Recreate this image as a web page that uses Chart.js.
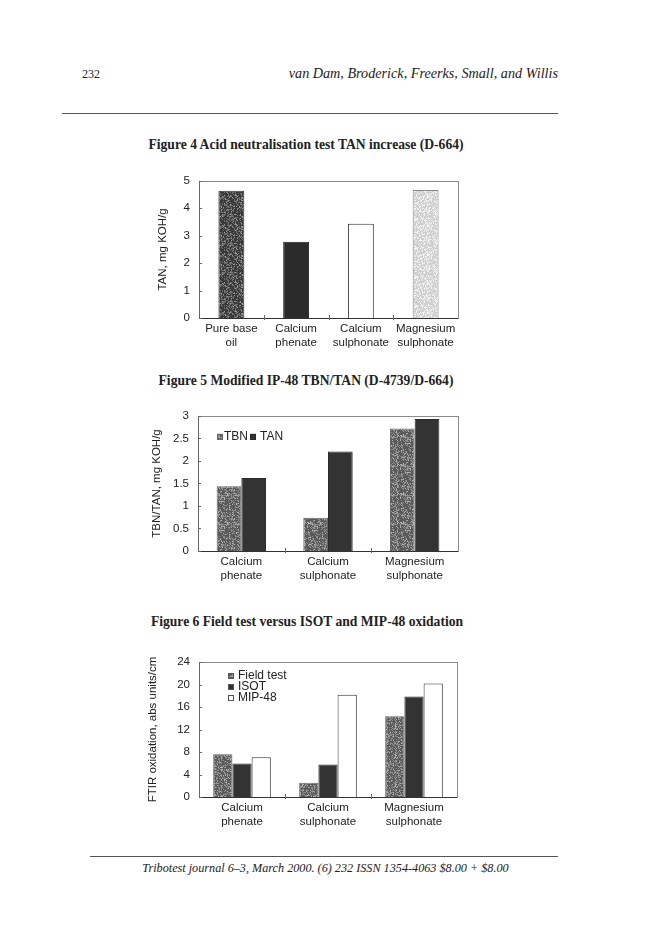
<!DOCTYPE html>
<html><head><meta charset="utf-8">
<script src="https://cdn.jsdelivr.net/npm/chart.js@4"></script>
<style>
html,body{margin:0;padding:0;background:#fff;}
body{width:648px;height:947px;position:relative;overflow:hidden;font-family:"Liberation Serif",serif;color:#222;}
.abs{position:absolute;white-space:nowrap;line-height:1;}
.rule{position:absolute;height:1px;background:#555;}
.ftitle{position:absolute;left:0;width:612px;text-align:center;font-weight:bold;font-size:13.6px;line-height:1;white-space:nowrap;}
.cv{position:absolute;}
</style></head><body>
<div class="abs" style="left:82px;top:68px;font-size:12px;">232</div>
<div class="abs" style="right:90px;top:66px;font-size:14.2px;font-style:italic;">van Dam, Broderick, Freerks, Small, and Willis</div>
<div class="rule" style="left:62px;width:496px;top:113px;"></div>
<div class="ftitle" style="top:138px;">Figure 4 Acid neutralisation test TAN increase (D-664)</div>
<div class="cv" style="left:140px;top:165px;width:330px;height:200px;"><canvas id="c1"></canvas></div>
<div class="ftitle" style="top:374px;">Figure 5 Modified IP-48 TBN/TAN (D-4739/D-664)</div>
<div class="cv" style="left:140px;top:400px;width:330px;height:195px;"><canvas id="c2"></canvas></div>
<div class="ftitle" style="top:615px;left:1px;">Figure 6 Field test versus ISOT and MIP-48 oxidation</div>
<div class="cv" style="left:140px;top:645px;width:330px;height:200px;"><canvas id="c3"></canvas></div>
<div class="rule" style="left:90px;width:468px;top:856px;"></div>
<div class="abs" style="left:0;width:651px;text-align:center;top:862px;font-size:12.2px;font-style:italic;">Tribotest journal 6–3, March 2000. (6) 232 ISSN 1354-4063 $8.00 + $8.00</div>
<script>
// ---- data ----
const fig4Categories = [['Pure base','oil'],['Calcium','phenate'],['Calcium','sulphonate'],['Magnesium','sulphonate']];
const fig4TAN = [4.64, 2.78, 3.44, 4.67];
const fig4YMax = 5, fig4YStep = 1;

const fig5Categories = [['Calcium','phenate'],['Calcium','sulphonate'],['Magnesium','sulphonate']];
const fig5TBN = [1.44, 0.74, 2.72];
const fig5TAN = [1.62, 2.21, 2.93];
const fig5YMax = 3, fig5YStep = 0.5;

const fig6Categories = [['Calcium','phenate'],['Calcium','sulphonate'],['Magnesium','sulphonate']];
const fig6Field = [7.6, 2.55, 14.35];
const fig6ISOT = [5.95, 5.8, 17.85];
const fig6MIP = [7.05, 18.2, 20.2];
const fig6YMax = 24, fig6YStep = 4;

// ---- styles ----
const FONT = {family:'"Liberation Sans", Arial, sans-serif', size:11.5};
const TXT = '#222';

function stipple(ctx, base, dark, light, seed) {
  const W = 31, H = 29;
  const c = document.createElement('canvas'); c.width = W; c.height = H;
  const g = c.getContext('2d');
  g.fillStyle = base; g.fillRect(0,0,W,H);
  for (let y=0;y<H;y++) for (let x=0;x<W;x++){
    let h = (Math.imul(x+1, 73856093) ^ Math.imul(y+1, 19349663) ^ Math.imul(seed, 83492791)) >>> 0;
    h = (h ^ (h >>> 13)) >>> 0; h = Math.imul(h, 1274126177) >>> 0; h = (h ^ (h >>> 16)) % 100;
    if (h < 22) { g.fillStyle = dark; g.fillRect(x,y,1,1); }
    else if (h < 40) { g.fillStyle = light; g.fillRect(x,y,1,1); }
  }
  return ctx.createPattern(c,'repeat');
}

const framePlugin = {
  id:'frame',
  beforeDatasetsDraw(chart){
    const {ctx, chartArea:a} = chart;
    ctx.save();
    ctx.strokeStyle = '#8a8a8a'; ctx.lineWidth = 1;
    ctx.strokeRect(Math.round(a.left)+0.5, Math.round(a.top)+0.5, Math.round(a.right-a.left), Math.round(a.bottom-a.top));
    ctx.restore();
  },
  afterDatasetsDraw(chart){
    const {ctx, chartArea:a, scales} = chart;
    ctx.save();
    ctx.strokeStyle = '#333'; ctx.lineWidth = 1;
    const by = Math.round(a.bottom)+0.5;
    ctx.beginPath(); ctx.moveTo(a.left, by); ctx.lineTo(a.right, by); ctx.stroke();
    ctx.strokeStyle = '#666';
    ctx.beginPath(); ctx.moveTo(Math.round(a.left)+0.5, a.top); ctx.lineTo(Math.round(a.left)+0.5, a.bottom); ctx.stroke();
    scales.y.ticks.forEach((t,i)=>{
      const y = Math.round(scales.y.getPixelForTick(i))+0.5;
      ctx.beginPath(); ctx.moveTo(a.left, y); ctx.lineTo(a.left+3, y); ctx.stroke();
    });
    const n = scales.x.ticks.length;
    for (let i=1;i<n;i++){
      const x = Math.round((scales.x.getPixelForTick(i-1)+scales.x.getPixelForTick(i))/2)+0.5;
      ctx.beginPath(); ctx.moveTo(x, a.bottom-3); ctx.lineTo(x, a.bottom+2); ctx.stroke();
    }
    ctx.restore();
  }
};

const legendPlugin = {
  id:'inlegend',
  afterDatasetsDraw(chart, args, o){
    if (!o || !o.mode) return;
    const {ctx, chartArea:a} = chart;
    ctx.save();
    ctx.font = (o.size||11.5) + 'px "Liberation Sans", Arial, sans-serif';
    ctx.textBaseline = 'middle';
    const ds = chart.data.datasets;
    if (o.mode === 'row') {
      let x = a.left + o.dx; const y = a.top + o.dy;
      ds.forEach((d,i)=>{
        if (i>0) x += 2;
        ctx.fillStyle = d.backgroundColor; ctx.fillRect(x, y-3, 6, 6);
        ctx.strokeStyle = d.borderColor; ctx.lineWidth = 1; ctx.strokeRect(x+0.5, y-2.5, 5, 5);
        x += 7 + (i>0?3:0);
        ctx.fillStyle = TXT; ctx.fillText(d.label, x, y);
        x += ctx.measureText(d.label).width;
      });
    } else {
      ds.forEach((d,i)=>{
        const x = a.left + o.dx, y = a.top + o.dy + i*o.step;
        ctx.fillStyle = d.backgroundColor; ctx.fillRect(x, y-3, 6, 6);
        ctx.strokeStyle = '#555'; ctx.lineWidth = 1; ctx.strokeRect(x+0.5, y-2.5, 5, 5);
        ctx.fillStyle = TXT; ctx.fillText(d.label, x+10, y);
      });
    }
    ctx.restore();
  }
};

function options(p){
  return {
    responsive:true, maintainAspectRatio:false, animation:false, devicePixelRatio:1,
    layout:{padding:{top:p.padTop, right:p.padRight, left:0, bottom:0}},
    plugins:{legend:{display:false}, tooltip:{enabled:false}, inlegend:p.legend||{}},
    scales:{
      x:{ grid:{display:false, drawTicks:false}, border:{display:false},
          ticks:{font:FONT, color:TXT, padding:4, maxRotation:0, autoSkip:false},
          afterFit(s){ s.height = p.xH; } },
      y:{ min:0, max:p.max, grid:{display:false, drawTicks:false}, border:{display:false},
          ticks:{stepSize:p.step, font:FONT, color:TXT, padding:9, callback:(v)=>String(+v.toFixed(2))},
          title:{display:true, text:p.title, font:FONT, color:TXT, padding:{top:p.titlePad, bottom:0}},
          afterFit(s){ s.width = p.yW; } }
    }
  };
}

Chart.register(framePlugin, legendPlugin);

// Figure 4
const ctx1 = document.getElementById('c1').getContext('2d');
new Chart(ctx1, {
  type:'bar',
  data:{ labels:fig4Categories, datasets:[{
    label:'TAN', data:fig4TAN,
    backgroundColor:[stipple(ctx1,'#6e6e6e','#3a3a3a','#9a9a9a',3), '#2b2b2b', '#ffffff', stipple(ctx1,'#ececec','#cfcfcf','#fafafa',7)],
    borderColor:['#333','#222','#333','#888'], borderWidth:1,
    categoryPercentage:1, barPercentage:0.4 }]},
  options: options({padTop:13, padRight:12, xH:47, yW:59, max:fig4YMax, step:fig4YStep, title:'TAN, mg KOH/g', titlePad:16})
});

// Figure 5
const ctx2 = document.getElementById('c2').getContext('2d');
new Chart(ctx2, {
  type:'bar',
  data:{ labels:fig5Categories, datasets:[
    {label:'TBN', data:fig5TBN, backgroundColor:stipple(ctx2,'#8c8c8c','#5a5a5a','#b4b4b4',5), borderColor:'#666', borderWidth:1, categoryPercentage:0.57, barPercentage:1},
    {label:'TAN', data:fig5TAN, backgroundColor:'#333333', borderColor:'#2a2a2a', borderWidth:1, categoryPercentage:0.57, barPercentage:1}
  ]},
  options: options({padTop:15, padRight:12, xH:44, yW:58, max:fig5YMax, step:fig5YStep, title:'TBN/TAN, mg KOH/g', titlePad:10,
    legend:{mode:'row', dx:19, dy:21, size:12}})
});

// Figure 6
const ctx3 = document.getElementById('c3').getContext('2d');
new Chart(ctx3, {
  type:'bar',
  data:{ labels:fig6Categories, datasets:[
    {label:'Field test', data:fig6Field, backgroundColor:stipple(ctx3,'#8c8c8c','#5a5a5a','#b4b4b4',9), borderColor:'#666', borderWidth:1, categoryPercentage:0.67, barPercentage:1},
    {label:'ISOT', data:fig6ISOT, backgroundColor:'#333333', borderColor:'#2a2a2a', borderWidth:1, categoryPercentage:0.67, barPercentage:1},
    {label:'MIP-48', data:fig6MIP, backgroundColor:'#ffffff', borderColor:'#333', borderWidth:1, categoryPercentage:0.67, barPercentage:1}
  ]},
  options: options({padTop:17, padRight:13, xH:48, yW:59, max:fig6YMax, step:fig6YStep, title:'FTIR oxidation, abs units/cm', titlePad:6,
    legend:{mode:'col', dx:29, dy:14, step:11, size:12}})
});
</script>
</body></html>
